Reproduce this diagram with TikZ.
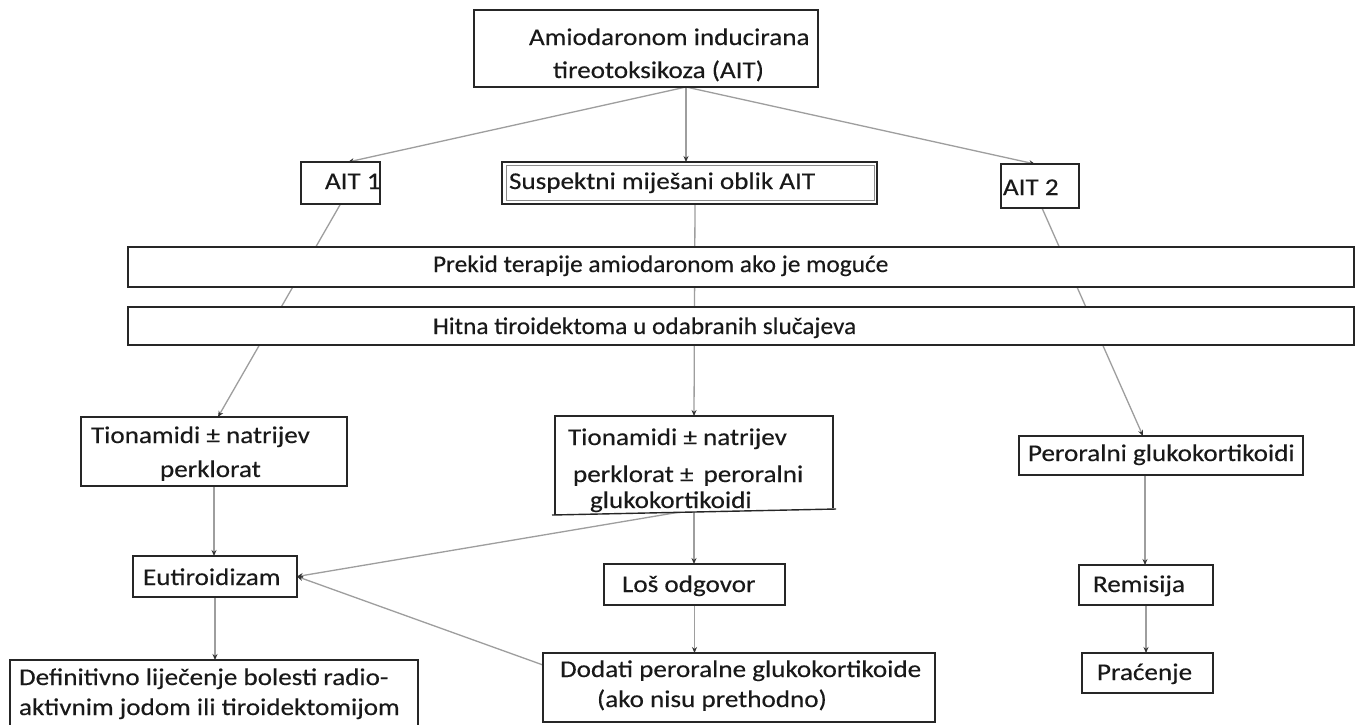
\documentclass[tikz,border=0pt]{standalone}
\usepackage{fontspec}
\setmainfont[FakeStretch=1.13,FakeBold=0.3]{Carlito}
\newfontfamily\narrowfont[FakeStretch=1.056,FakeBold=0.3]{Carlito}
\usetikzlibrary{arrows.meta}
\pgfdeclarelayer{back}
\pgfdeclarelayer{bg}
\pgfsetlayers{back,bg,main}
\tikzset{
  box/.style={draw=black!85, line width=1.4pt, fill=white, inner sep=0pt, outer sep=0pt},
  boxline/.style={draw=black!85, line width=1.4pt},
  txt/.style={anchor=base west, inner sep=0pt, outer sep=0pt, font=\fontsize{24}{28}\selectfont, text=black!90},
  ntxt/.style={txt, font=\narrowfont\fontsize{24}{28}\selectfont},
  conn/.style={draw=black!38, line width=1.3pt, -{Stealth[length=6pt,width=5pt,color=black!80]}},
}
\newcommand\bx[6][]{\node[box, #1, minimum width={#5-#3}, minimum height={#6-#4}] (#2) at ({(#3+#5)/2},{(#4+#6)/2}) {};}
\begin{document}
\begin{tikzpicture}[x=1pt,y=-1pt]
\useasboundingbox (0,0) rectangle (1359,724);
\begin{pgfonlayer}{back}
\fill[white] (0,0) rectangle (1359,724);
\end{pgfonlayer}
% boxes
\bx{top}{474}{10}{818}{87}
\bx{ait1}{301}{162}{380}{204}
\bx{susp}{502}{162}{877}{204}
\bx{ait2}{1001}{164}{1079}{208}
\bx{prekid}{128}{247}{1354}{287}
\bx{hitna}{128}{307}{1354}{345}
\bx{tl}{81}{417}{347}{486}
\bx[draw=none]{tm}{555}{416}{833}{512}
\draw[boxline] ([yshift=-3pt]tm.south west) -- (tm.north west) -- (tm.north east) -- ([yshift=4pt]tm.south east);
\draw[boxline] ([xshift=-3pt,yshift=-3pt]tm.south west) -- ([xshift=3pt,yshift=3pt]tm.south east);
\bx{per}{1019}{436}{1303}{475}
\bx{eu}{133}{556}{297}{597}
\bx{los}{604}{564}{785}{605}
\bx{rem}{1079}{565}{1213}{605}
\bx{dod}{543}{653}{935}{722}
\bx{pra}{1082}{653}{1213}{693}
\bx{def}{10}{660}{418}{728}
\draw[black!45, line width=0.8pt] (506,165) rectangle (874,200);
% texts
\node[txt] (topa) at (529,45) {Amiodaronom inducirana};
\node[txt] (topb) at (553,78) {tireotoksikoza (AIT)};
\node[txt] (ait1t) at (325,189) {AIT 1};
\node[txt] (suspt) at (509,189) {Suspektni miješani oblik AIT};
\node[txt] (ait2t) at (1003,195) {AIT 2};
\node[ntxt] (prekidt) at (433,272) {Prekid terapije amiodaronom ako je moguće};
\node[ntxt] (hitnat) at (433,334) {Hitna tiroidektoma u odabranih slučajeva};
\node[txt] (tla) at (91,443) {Tionamidi ± natrijev};
\node[txt] (tlb) at (160,477) {perklorat};
\node[txt] (tma) at (568,445) {Tionamidi ± natrijev};
\node[txt] (tmb) at (573,482) {perklorat ±\, peroralni};
\node[txt] (tmc) at (590,508) {glukokortikoidi};
\node[txt] (pert) at (1028,461) {Peroralni glukokortikoidi};
\node[txt] (eut) at (143,585) {Eutiroidizam};
\node[txt] (lost) at (622,592) {Loš odgovor};
\node[txt] (remt) at (1093,592) {Remisija};
\node[txt] (defa) at (19,685) {Definitivno liječenje bolesti radio-};
\node[txt] (defb) at (19,715) {aktivnim jodom ili tiroidektomijom};
\node[txt] (doda) at (560,677) {Dodati peroralne glukokortikoide};
\node[txt] (dodb) at (597,707) {(ako nisu prethodno)};
\node[txt] (prat) at (1097,680) {Praćenje};
% connectors
\begin{pgfonlayer}{bg}
\draw[conn] ([xshift=40pt]top.south) -- ([xshift=7.5pt]ait1.north);
\draw[conn] ([xshift=40pt]top.south) -- ([xshift=-3.5pt]susp.north);
\draw[conn] ([xshift=40pt]top.south) -- ([xshift=-5pt]ait2.north);
\draw[conn] (ait1.south) -- ([xshift=4pt]tl.north);
\draw[conn] ([xshift=5.5pt]susp.south) -- (tm.north);
\draw[conn] ([xshift=2pt]ait2.south) -- ([xshift=-18pt]per.north);
\draw[conn] (tl.south) -- (tl.south |- eu.north);
\draw[conn] (tm.south) -- (tm.south |- los.north);
\draw[conn] ([xshift=-14pt]tm.south) -- (eu.east);
\draw[conn] (los.south) -- (los.south |- dod.north);
\draw[conn] ([yshift=-12pt]dod.north west) -- (eu.east);
\draw[conn] (eu.south) -- (eu.south |- def.north);
\draw[conn] ([xshift=-16pt]per.south) -- ([xshift=-16pt]per.south |- rem.north);
\draw[conn] (rem.south) -- (rem.south |- pra.north);
\end{pgfonlayer}
\end{tikzpicture}
\end{document}
